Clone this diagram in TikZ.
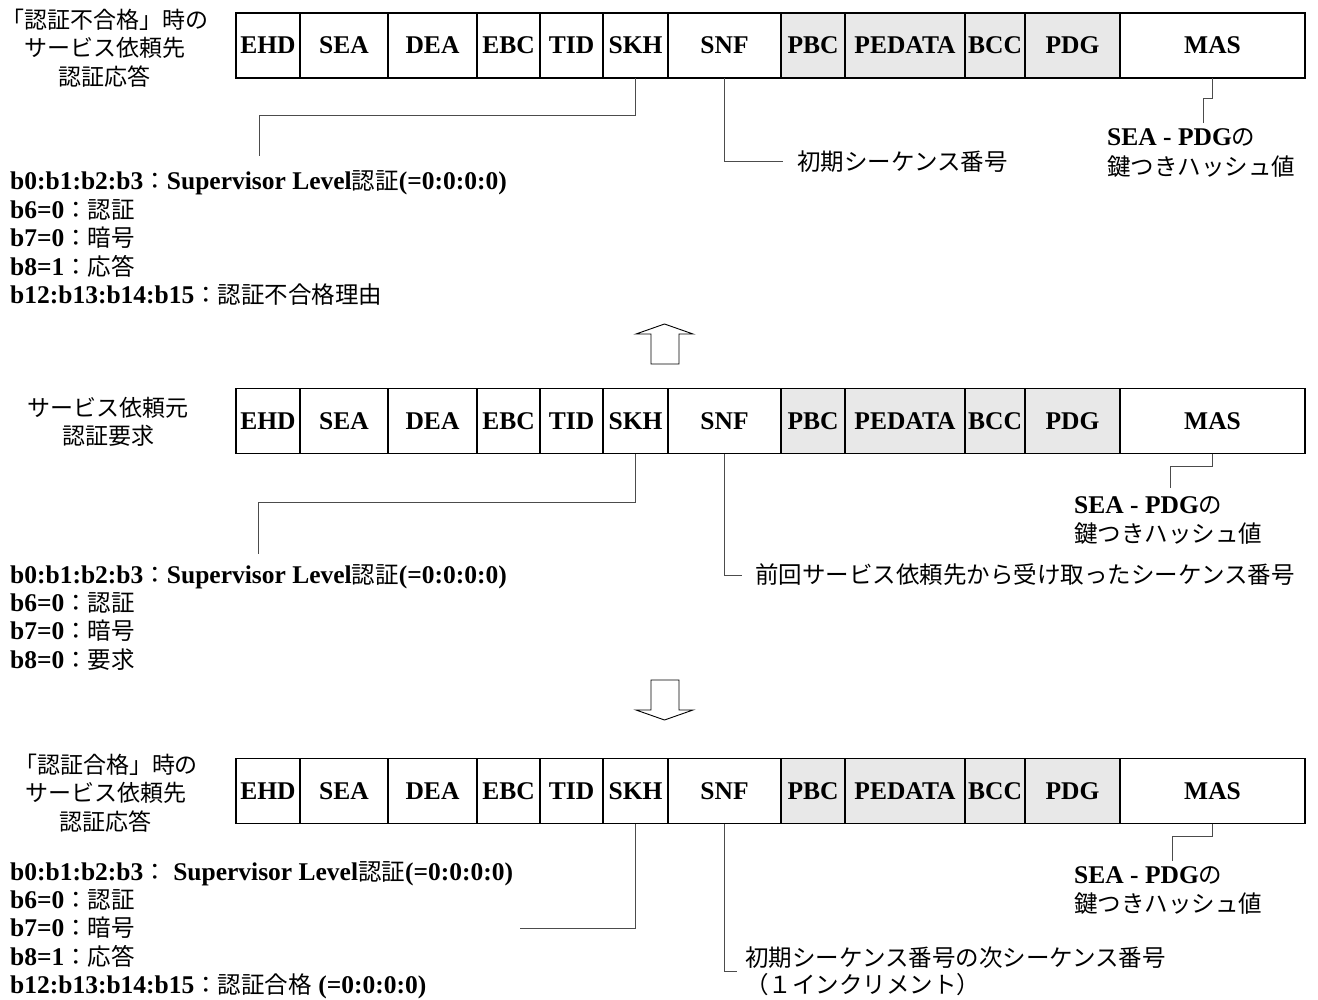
\documentclass[tikz,border=0pt]{standalone}
\usepackage{fontspec}
\setmainfont{Liberation Serif}
\newfontfamily\jpfont{Noto Sans CJK JP}
\newcommand{\jtext}[1]{{\jpfont\mdseries\fontsize{23.5}{28.4}\selectfont #1}}
\colorlet{padfill}{black!9}
\tikzset{
  field/.style  = {draw, rectangle, line width=1.1pt, inner sep=0, outer sep=0,
    minimum height=65pt, text height=17pt, text depth=0pt,
    font=\fontsize{25.5}{28}\bfseries},
  title/.style  = {align=center, inner sep=0, font=\jpfont\fontsize{23}{28.6}\selectfont},
  bits/.style   = {align=left, inner sep=0, anchor=base west, font=\fontsize{25.5}{28.4}\bfseries},
  hash/.style   = {align=left, inner sep=0, anchor=base west, font=\fontsize{25.5}{29.5}\bfseries},
  seq/.style    = {align=left, inner sep=0, anchor=west, font=\jpfont\fontsize{23.5}{27}\selectfont},
  leader/.style = {draw=black!70, line width=1pt},
  bigarrow/.style = {draw, line width=0.9pt, fill=white},
}
% one frame: #1 row name, #2 centre y
\newcommand{\msgframe}[2]{%
  \foreach \fld/\xl/\xr/\tone in {EHD/236/300/white, SEA/300/388/white, DEA/388/477/white,
      EBC/477/540/white, TID/540/603/white, SKH/603/668/white, SNF/668/781/white,
      PBC/781/845/padfill, PEDATA/845/965/padfill, BCC/965/1025/padfill,
      PDG/1025/1120/padfill, MAS/1120/1305/white}
    \node[field, fill=\tone, minimum width={(\xr-\xl)*1pt}] (#1\fld) at ({(\xl+\xr)/2},#2) {\fld};
}

\begin{document}
\begin{tikzpicture}[x=1pt, y=-1pt]
\useasboundingbox (0,0) rectangle (1318,1000);

% 認証不合格 response
\node[title] (ngTitle) at (105,48) {「認証不合格」時の\\サービス依頼先\\認証応答};
\msgframe{ng}{45.5}
% base = last line
\node[bits] (ngBits) at (10,303.6) {b0:b1:b2:b3\jtext{：}Supervisor Level\jtext{認証}(=0:0:0:0)\\
  b6=0\jtext{：認証}\\
  b7=0\jtext{：暗号}\\
  b8=1\jtext{：応答}\\
  b12:b13:b14:b15\jtext{：認証不合格理由}};
\node[seq] (ngSeq) at (797,162) {初期シーケンス番号};
\node[hash] (ngHash) at (1107,175.5) {SEA - PDG\jtext{の}\\\jtext{鍵つきハッシュ値}};
\coordinate (ngTip) at (259,156);
\draw[leader] (ngSKH.south) -- ++(0,38) -| (ngTip);
\draw[leader] (ngSNF.south) |- ([xshift=-14pt]ngSeq.west);
\draw[leader] (ngMAS.south) -- ++(0,21) -| ([xshift=96pt,yshift=6pt]ngHash.north west);

% arrow up
\draw[bigarrow] (651,364) -- (651,334) -- (636,334) -- (664.5,324) -- (693,334) -- (679,334) -- (679,364) -- cycle;

% request
\node[title] (reqTitle) at (108,422) {サービス依頼元\\認証要求};
\msgframe{req}{421}
\node[bits] (reqBits) at (10,668.2) {b0:b1:b2:b3\jtext{：}Supervisor Level\jtext{認証}(=0:0:0:0)\\
  b6=0\jtext{：認証}\\
  b7=0\jtext{：暗号}\\
  b8=0\jtext{：要求}};
\node[seq] (reqSeq) at (755,575) {前回サービス依頼先から受け取ったシーケンス番号};
\node[hash] (reqHash) at (1074,542.5) {SEA - PDG\jtext{の}\\\jtext{鍵つきハッシュ値}};
\coordinate (reqTip) at (258,554);
\draw[leader] (reqSKH.south) -- ++(0,49) -| (reqTip);
\draw[leader] (reqSNF.south) |- ([xshift=-13pt]reqSeq.west);
\draw[leader] (reqMAS.south) -- ++(0,13) -| ([xshift=96pt,yshift=8pt]reqHash.north west);

% arrow down
\draw[bigarrow] (651,680) -- (651,710) -- (636,710) -- (664.5,720) -- (693,710) -- (679,710) -- (679,680) -- cycle;

% 認証合格 response
\node[title] (okTitle) at (106,793) {「認証合格」時の\\サービス依頼先\\認証応答};
\msgframe{ok}{791}
\node[bits] (okBits) at (10,993.6) {b0:b1:b2:b3\jtext{：} Supervisor Level\jtext{認証}(=0:0:0:0)\\
  b6=0\jtext{：認証}\\
  b7=0\jtext{：暗号}\\
  b8=1\jtext{：応答}\\
  b12:b13:b14:b15\jtext{：認証合格} (=0:0:0:0)};
\node[seq] (okSeq) at (745,971) {初期シーケンス番号の次シーケンス番号\\（１インクリメント）};
\node[hash] (okHash) at (1074,912.5) {SEA - PDG\jtext{の}\\\jtext{鍵つきハッシュ値}};
\coordinate (okTip) at (520,928);
\draw[leader] (okSKH.south) |- (okTip);
\draw[leader] (okSNF.south) |- ([xshift=-8pt]okSeq.west);
\draw[leader] (okMAS.south) -- ++(0,13) -| ([xshift=98pt,yshift=5pt]okHash.north west);
\end{tikzpicture}
\end{document}
